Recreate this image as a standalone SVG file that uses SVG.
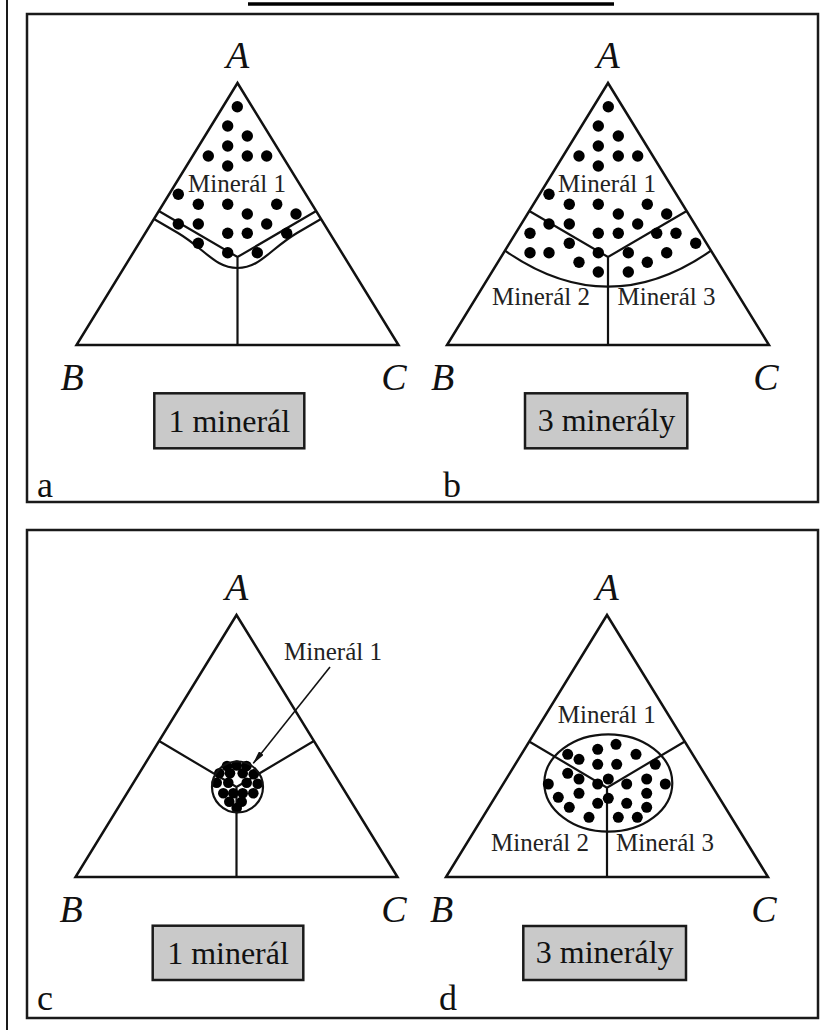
<svg xmlns="http://www.w3.org/2000/svg" width="823" height="1030" viewBox="0 0 823 1030">
<style>
.frame{fill:none;stroke:#1a1a1a;stroke-width:2.5}
.tri{fill:none;stroke:#111;stroke-width:2.5;stroke-linejoin:miter}
.ln{fill:none;stroke:#111;stroke-width:2.2}
.dot{fill:#000}
.vx{font-family:"Liberation Serif","Times New Roman",serif;font-style:italic;font-size:38px;fill:#111;text-anchor:middle}
.mn{font-family:"Liberation Serif","Times New Roman",serif;font-size:25px;fill:#222;text-anchor:middle}
.lbl{fill:#c9c9c9;stroke:#1a1a1a;stroke-width:2.5}
.lt{font-family:"Liberation Serif","Times New Roman",serif;font-size:32px;fill:#111;text-anchor:middle}
.pl{font-family:"Liberation Serif","Times New Roman",serif;font-size:36px;fill:#111}
</style>
<defs>
<marker id="ah" viewBox="0 0 14 6" refX="13" refY="3" markerWidth="14" markerHeight="6" markerUnits="userSpaceOnUse" orient="auto">
<path d="M0,0 L14,3 L0,6 z" fill="#111"/>
</marker>
</defs>
<rect width="823" height="1030" fill="#fff"/>
<line x1="7" y1="0" x2="7" y2="1030" stroke="#1a1a1a" stroke-width="2"/>
<line x1="248" y1="4" x2="614" y2="4" stroke="#000" stroke-width="3.5"/>
<rect class="frame" x="27" y="14" width="791" height="488"/>
<rect class="frame" x="27" y="530" width="791" height="488"/>

<g id="panel-a">
<polygon class="tri" points="237.5,83 76.5,345 398.5,345"/>
<path class="ln" d="M158.8,211 L237.5,257 L316.2,211 M237.5,257 L237.5,345"/>
<path class="ln" d="M154,219 L178,233 C205,249 215,268 237.5,268 C260,268 270,249 297,233 L321,219"/>
<g class="dot">
<circle cx="237.3" cy="106.7" r="5.7"/><circle cx="227.7" cy="126" r="5.7"/><circle cx="247.3" cy="136" r="5.7"/><circle cx="227.7" cy="146" r="5.7"/>
<circle cx="208.3" cy="156" r="5.7"/><circle cx="247.3" cy="156" r="5.7"/><circle cx="266.7" cy="156" r="5.7"/><circle cx="227.7" cy="166" r="5.7"/>
<circle cx="178.3" cy="194.3" r="5.7"/><circle cx="198.3" cy="204.3" r="5.7"/><circle cx="227.7" cy="204.3" r="5.7"/><circle cx="276.7" cy="204.3" r="5.7"/>
<circle cx="247.3" cy="214" r="5.7"/><circle cx="296" cy="214" r="5.7"/><circle cx="178.3" cy="224" r="5.7"/><circle cx="198.3" cy="224" r="5.7"/>
<circle cx="266.7" cy="224" r="5.7"/><circle cx="227.7" cy="233.3" r="5.7"/><circle cx="247.3" cy="233.3" r="5.7"/><circle cx="286.7" cy="233.3" r="5.7"/>
<circle cx="198.3" cy="243.3" r="5.7"/><circle cx="227.7" cy="252.7" r="5.7"/><circle cx="257.3" cy="252.7" r="5.7"/>
</g>
<text class="mn" x="237" y="191.7">Minerál 1</text>
<text class="vx" x="237.5" y="68">A</text>
<text class="vx" x="72" y="390">B</text>
<text class="vx" x="394" y="390">C</text>
<rect class="lbl" x="154.3" y="393.3" width="150" height="55"/>
<text class="lt" x="229.3" y="432">1 minerál</text>
<text class="pl" x="37" y="497">a</text>
</g>

<g id="panel-b">
<polygon class="tri" points="608,83 447,345 769,345"/>
<path class="ln" d="M529.3,211 L608,257 L686.7,211 M608,257 L608,345"/>
<path class="ln" d="M505,250.7 Q608,322.7 711,250.7"/>
<g class="dot">
<circle cx="608.3" cy="106.7" r="5.7"/><circle cx="598.3" cy="126" r="5.7"/><circle cx="618.3" cy="136" r="5.7"/><circle cx="598.3" cy="146" r="5.7"/>
<circle cx="579" cy="156" r="5.7"/><circle cx="618.3" cy="156" r="5.7"/><circle cx="637.7" cy="156" r="5.7"/><circle cx="598.3" cy="166" r="5.7"/>
<circle cx="549" cy="194.3" r="5.7"/><circle cx="569.3" cy="204.3" r="5.7"/><circle cx="598.3" cy="204.3" r="5.7"/><circle cx="647.3" cy="204.3" r="5.7"/>
<circle cx="618.3" cy="214" r="5.7"/><circle cx="666.7" cy="214" r="5.7"/><circle cx="549" cy="224" r="5.7"/><circle cx="569.3" cy="224" r="5.7"/>
<circle cx="637.7" cy="224" r="5.7"/><circle cx="530" cy="233.3" r="5.7"/><circle cx="598.3" cy="233.3" r="5.7"/><circle cx="618.3" cy="233.3" r="5.7"/>
<circle cx="656.7" cy="233.3" r="5.7"/><circle cx="676" cy="233.3" r="5.7"/><circle cx="569.3" cy="243.3" r="5.7"/><circle cx="695.7" cy="243.3" r="5.7"/>
<circle cx="530" cy="252.7" r="5.7"/><circle cx="549" cy="252.7" r="5.7"/><circle cx="598.3" cy="252.7" r="5.7"/><circle cx="628.3" cy="252.7" r="5.7"/>
<circle cx="666.7" cy="252.7" r="5.7"/><circle cx="579" cy="262.3" r="5.7"/><circle cx="647.3" cy="262.3" r="5.7"/><circle cx="598.3" cy="272" r="5.7"/>
<circle cx="628.3" cy="272" r="5.7"/>
</g>
<text class="mn" x="607" y="191.7">Minerál 1</text>
<text class="mn" x="541" y="305">Minerál 2</text>
<text class="mn" x="666.5" y="305">Minerál 3</text>
<text class="vx" x="608" y="68">A</text>
<text class="vx" x="442.5" y="390">B</text>
<text class="vx" x="766" y="390">C</text>
<rect class="lbl" x="525" y="393.3" width="162.3" height="55"/>
<text class="lt" x="606.5" y="431">3 minerály</text>
<text class="pl" x="443" y="497">b</text>
</g>

<g id="panel-c">
<polygon class="tri" points="236.5,615 75.5,877 397.5,877"/>
<path class="ln" d="M159.1,741 L236.5,787 L313.9,741 M236.5,787 L236.5,877"/>
<g class="dot">
<circle cx="227" cy="766" r="5.3"/><circle cx="236.7" cy="765.5" r="5.3"/><circle cx="246.5" cy="766" r="5.3"/>
<circle cx="219.3" cy="773.3" r="5.3"/><circle cx="230" cy="773.3" r="5.3"/><circle cx="242.7" cy="773.3" r="5.3"/><circle cx="253.7" cy="774.3" r="5.3"/>
<circle cx="216.7" cy="782.7" r="5.3"/><circle cx="228.3" cy="782.7" r="5.3"/><circle cx="246.7" cy="782.7" r="5.3"/><circle cx="257.7" cy="783.7" r="5.3"/>
<circle cx="223.3" cy="793.3" r="5.3"/><circle cx="233.3" cy="793.3" r="5.3"/><circle cx="242.7" cy="793.3" r="5.3"/><circle cx="253.3" cy="793.3" r="5.3"/>
<circle cx="229.3" cy="801.7" r="5.3"/><circle cx="241.7" cy="801.7" r="5.3"/><circle cx="236.7" cy="808" r="5.3"/>
</g>
<circle class="ln" cx="237.5" cy="787" r="25.5"/>
<text class="mn" x="333" y="660">Minerál 1</text>
<text class="vx" x="236.5" y="600">A</text>
<text class="vx" x="71" y="921.7">B</text>
<text class="vx" x="394" y="921.7">C</text>
<rect class="lbl" x="152.7" y="925.7" width="150.6" height="54.3"/>
<text class="lt" x="228" y="964">1 minerál</text>
<text class="pl" x="37" y="1010">c</text>
</g>

<g id="panel-d">
<polygon class="tri" points="607,615 446,877 768,877"/>
<path class="ln" d="M529.6,741.7 L607,787.7 L684.4,741.7 M607,787.7 L607,877"/>
<ellipse class="ln" cx="608.3" cy="783" rx="64" ry="48.7"/>
<g class="dot">
<circle cx="616" cy="744.3" r="5.5"/><circle cx="597.7" cy="749.3" r="5.5"/><circle cx="636" cy="754.3" r="5.5"/><circle cx="567.7" cy="754.3" r="5.5"/>
<circle cx="579" cy="759.3" r="5.5"/><circle cx="597.7" cy="764.3" r="5.5"/><circle cx="616.7" cy="764.3" r="5.5"/><circle cx="655.3" cy="764.3" r="5.5"/>
<circle cx="567.7" cy="773.3" r="5.5"/><circle cx="579" cy="779" r="5.5"/><circle cx="608.3" cy="779" r="5.5"/><circle cx="646.7" cy="779" r="5.5"/>
<circle cx="548.3" cy="784" r="5.5"/><circle cx="597.7" cy="784" r="5.5"/><circle cx="626.7" cy="784" r="5.5"/><circle cx="665.3" cy="784" r="5.5"/>
<circle cx="579" cy="793.3" r="5.5"/><circle cx="646.7" cy="793.3" r="5.5"/><circle cx="558.3" cy="797.3" r="5.5"/><circle cx="608.3" cy="798.3" r="5.5"/>
<circle cx="569.3" cy="807.3" r="5.5"/><circle cx="597.7" cy="803.3" r="5.5"/><circle cx="626.7" cy="803.3" r="5.5"/><circle cx="646.7" cy="807.3" r="5.5"/>
<circle cx="589" cy="817.3" r="5.5"/><circle cx="618.3" cy="817.3" r="5.5"/><circle cx="637.3" cy="817.3" r="5.5"/>
</g>
<text class="mn" x="606.7" y="723.3">Minerál 1</text>
<text class="mn" x="540" y="850.7">Minerál 2</text>
<text class="mn" x="665" y="850.7">Minerál 3</text>
<text class="vx" x="607" y="600">A</text>
<text class="vx" x="441.7" y="921.7">B</text>
<text class="vx" x="764" y="921.7">C</text>
<rect class="lbl" x="523.3" y="926" width="162.7" height="54"/>
<text class="lt" x="604.7" y="963">3 minerály</text>
<text class="pl" x="439" y="1010">d</text>
</g>

<g id="connectors">
<line x1="330" y1="667" x2="253.3" y2="763.3" stroke="#111" stroke-width="1.6" marker-end="url(#ah)"/>
</g>
</svg>
